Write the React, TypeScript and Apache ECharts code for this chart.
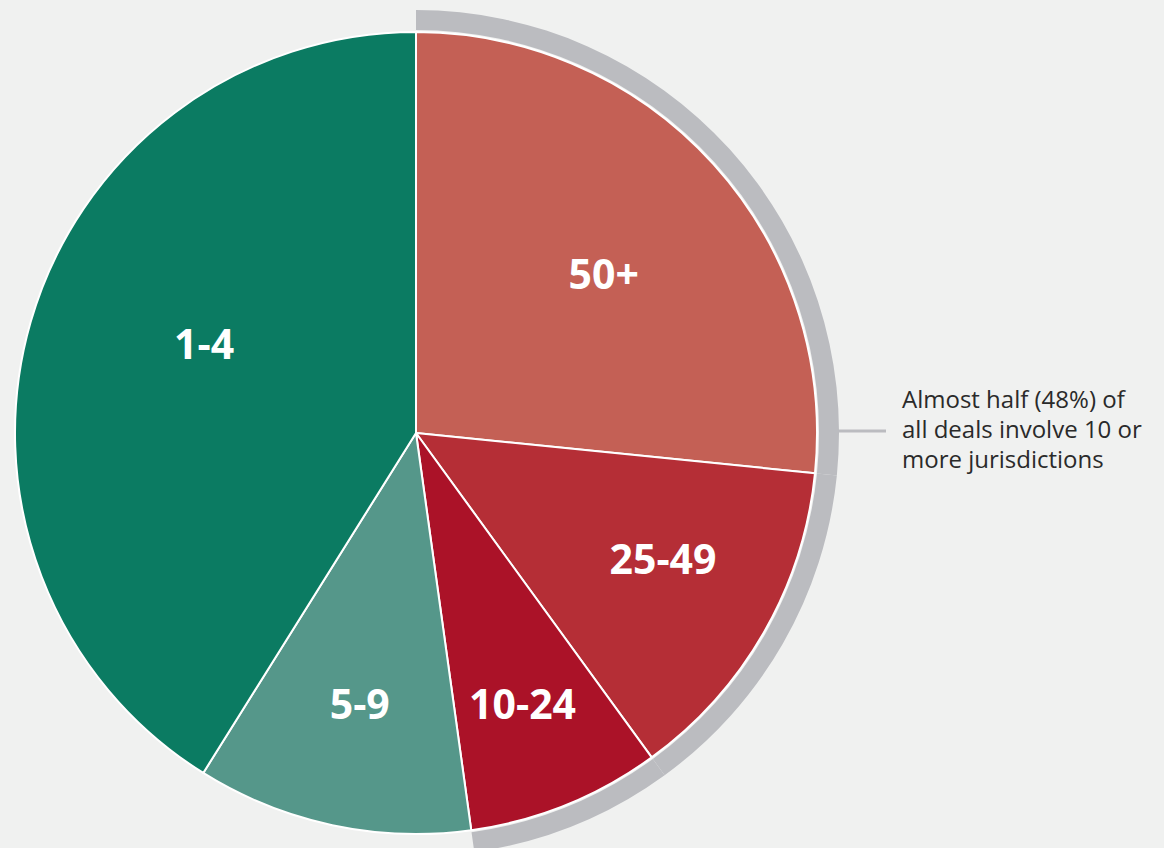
import React, { useEffect, useRef } from "react";
import * as echarts from "echarts";

const categories = ["50+", "25-49", "10-24", "5-9", "1-4"];
const values = [26.6, 13.4, 7.8, 11.1, 41.1];
const colors = ["#c46055", "#b52e36", "#ab1228", "#55978a", "#0b7b62"];
const highlighted = [true, true, true, false, false];
const labelRadius = [0.615, 0.69, 0.723, 0.688, 0.574];
const labelAngleShift = [1.7, -3.1, 0.4, -0.3, 7];
const annotationLines = ["Almost half (48%) of", "all deals involve 10 or", "more jurisdictions"];

const CX = 416;
const CY = 433;
const R = 401;

export default function App() {
  const ref = useRef<HTMLDivElement>(null);
  useEffect(() => {
    document.body.style.margin = "0";
    const chart = echarts.init(ref.current!, null, { renderer: "svg" });
    const total = values.reduce((a, b) => a + b, 0);
    const midAngles: number[] = [];
    let acc = 0;
    values.forEach((v) => {
      midAngles.push(((acc + v / 2) / total) * 360);
      acc += v;
    });
    chart.setOption({
      animation: false,
      backgroundColor: "#f0f1f0",
      series: [
        {
          type: "pie",
          center: [CX, CY],
          radius: [R + 2, R + 22],
          startAngle: 90,
          clockwise: true,
          silent: true,
          label: { show: false },
          labelLine: { show: false },
          itemStyle: { borderWidth: 0 },
          data: values.map((v, i) => ({
            value: v,
            itemStyle: { color: highlighted[i] ? "#bbbcc0" : "rgba(0,0,0,0)" },
          })),
        },
        {
          type: "pie",
          center: [CX, CY],
          radius: [0, R],
          startAngle: 90,
          clockwise: true,
          silent: true,
          itemStyle: { borderColor: "#ffffff", borderWidth: 2 },
          label: {
            show: true,
            position: "inside",
            formatter: "{b}",
            color: "#ffffff",
            fontSize: 41,
            fontWeight: "bold",
            fontFamily: "Open Sans",
            align: "center",
            verticalAlign: "middle",
          },
          labelLine: { show: false },
          labelLayout: (p: any) => {
            const i = p.dataIndex;
            const a = ((midAngles[i] + labelAngleShift[i]) * Math.PI) / 180;
            const r = R * labelRadius[i];
            return { x: CX + r * Math.sin(a), y: CY - r * Math.cos(a), align: "center", verticalAlign: "middle" };
          },
          data: categories.map((c, i) => ({
            name: c,
            value: values[i],
            itemStyle: { color: colors[i] },
          })),
        },
      ],
      graphic: [
        {
          type: "line",
          shape: { x1: 838, y1: 431, x2: 886, y2: 431 },
          style: { stroke: "#bbbcc0", lineWidth: 3 },
        },
        ...annotationLines.map((t, i) => ({
          type: "text",
          left: 902,
          top: 386 + i * 30,
          style: {
            text: t,
            fill: "#2a2a2a",
            fontSize: 24,
            fontFamily: "Open Sans",
          },
        })),
      ],
    });
    return () => chart.dispose();
  }, []);
  return <div ref={ref} style={{ width: 1164, height: 848 }} />;
}
